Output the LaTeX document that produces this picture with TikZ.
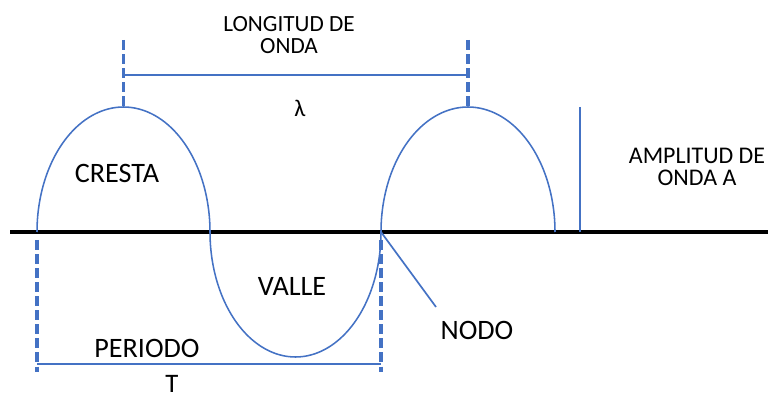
\documentclass[tikz,border=0pt]{standalone}
\usepackage{fontspec}
\setmainfont{Carlito}
\usepackage{xcolor}
\usetikzlibrary{positioning,calc}
\definecolor{wavec}{HTML}{4472C4}

\begin{document}
\begin{tikzpicture}[x=0.025cm, y=-0.025cm,
  wave/.style={draw=wavec, line width=1.1pt},
  guide/.style={draw=wavec, line width=2.2pt, dash pattern=on 7pt off 3pt},
  dim/.style={draw=wavec, line width=1.2pt},
  lbl/.style={font=\fontsize{20}{22}\selectfont, inner sep=0pt, align=center},
  note/.style={font=\fontsize{17}{16}\selectfont, inner sep=0pt, align=center}]
  \useasboundingbox (0,0) rectangle (768,399);
  % axis and zero crossings
  \coordinate (axl) at (10,232);
  \coordinate (axr) at (768,232);
  \foreach \n/\x in {o1/37, o2/210, o3/381, o4/555} {\coordinate (\n) at (\x,232);}
  \draw[line width=2.2pt] (axl) -- (axr);
  % wave as half ellipses
  \foreach \a/\b/\s in {37/210/1, 210/381/-1, 381/555/1}
    {\draw[wave] plot[smooth, domain=180:0, samples=60] ({(\a+\b)/2+(\b-\a)/2*cos(\x)}, {232-\s*125*sin(\x)});}
  % wavelength
  \coordinate (c1) at (123.5,107); \coordinate (c1t) at (123.5,40);
  \coordinate (c2) at (468,107);   \coordinate (c2t) at (468,40);
  \draw[guide] (c1t) -- (c1);
  \draw[guide] (c2t) -- (c2);
  \draw[dim] ($(c1t)!0.52!(c1)$) -- ($(c2t)!0.52!(c2)$);
  \node[note, font=\fontsize{16.5}{16}\selectfont] (longitud) at (289,35) {LONGITUD DE\\ONDA};
  \node[note] (lambda) at (300,108) {λ};
  % period
  \coordinate (p1) at (37,372); \coordinate (p2) at (381,372);
  \draw[guide] ($(o1)+(0,8)$) -- (p1);
  \draw[guide] ($(o3)+(0,8)$) -- (p2);
  \draw[dim] ($(p1)+(0,-8)$) -- ($(p2)+(0,-8)$);
  \node[lbl] (periodo) at (147,348) {PERIODO};
  \node[lbl, font=\fontsize{19}{20}\selectfont] (tper) at (172,384) {T};
  % labels
  \node[lbl] (cresta) at (117,173) {CRESTA};
  \node[lbl] (valle) at (292,286) {VALLE};
  \node[lbl] (nodo) at (477,330) {NODO};
  \coordinate (nodotip) at (436,307);
  \draw[dim] (o3) -- (nodotip);
  % amplitude
  \coordinate (amptop) at (580,107); \coordinate (ampbot) at (580,232);
  \draw[dim] (amptop) -- (ampbot);
  \node[note] (amplitud) at (697,167) {AMPLITUD DE\\ONDA A};
\end{tikzpicture}
\end{document}
